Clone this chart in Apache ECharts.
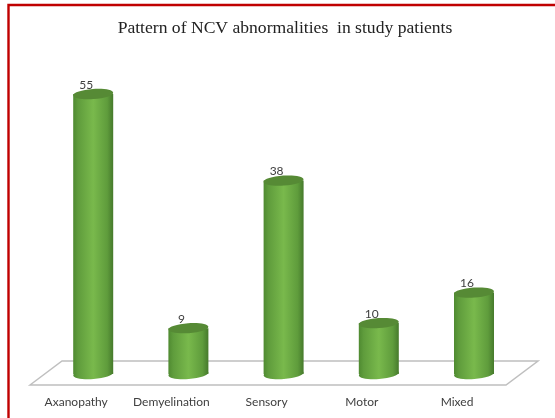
<!DOCTYPE html>
<html>
<head>
<meta charset="utf-8">
<style>
html, body { margin: 0; padding: 0; background: #fff; }
#main { width: 555px; height: 418px; }
</style>
<script src="https://cdn.jsdelivr.net/npm/echarts@6/dist/echarts.min.js"></script>
</head>
<body>
<div id="main"></div>
<script>
var categories = ['Axanopathy', 'Demyelination', 'Sensory', 'Motor', 'Mixed'];
var values = [55, 9, 38, 10, 16];
var chartTitle = 'Pattern of NCV abnormalities  in study patients';

var chart = echarts.init(document.getElementById('main'));

var depthShift = 17;
var tilt = 0.07;

function renderCylinder(params, api) {
	var top = api.coord([api.value(0), api.value(1)]);
	var base = api.coord([api.value(0), 0]);
	var cx = top[0] + depthShift;
	var rx = 20, ry = 5;
	var body = new echarts.graphic.LinearGradient(0, 0, 1, 0, [
		{ offset: 0, color: '#4f8a31' },
		{ offset: 0.12, color: '#5f9c3c' },
		{ offset: 0.5, color: '#79b94c' },
		{ offset: 0.85, color: '#5f9c3c' },
		{ offset: 1, color: '#467a2c' }
	]);
	return {
		type: 'group',
		children: [
			{
				type: 'ellipse',
				x: cx, y: base[1], rotation: tilt, z2: 1,
				shape: { cx: 0, cy: 0, rx: rx, ry: ry },
				style: { fill: body }
			},
			{
				type: 'rect',
				z2: 2,
				shape: { x: cx - rx, y: top[1], width: rx * 2, height: base[1] - top[1] },
				style: { fill: body }
			},
			{
				type: 'ellipse',
				x: cx, y: top[1], rotation: tilt, z2: 3,
				shape: { cx: 0, cy: 0, rx: rx, ry: ry },
				style: { fill: '#568a35' }
			},
			{
				type: 'text',
				x: top[0] + 10, y: top[1] - 9, z2: 4,
				style: {
					text: String(api.value(1)),
					fill: '#404040',
					font: '12px Lato',
					align: 'center',
					verticalAlign: 'middle'
				}
			}
		]
	};
}

var option = {
	animation: false,
	backgroundColor: '#fff',
	title: {
		text: chartTitle,
		left: 280,
		top: 14,
		textAlign: 'center',
		textStyle: {
			fontFamily: 'Liberation Serif',
			fontWeight: 'normal',
			fontSize: 17.6,
			color: '#222'
		}
	},
	grid: { left: 28.6, width: 476, top: 68.6, height: 305.4 },
	xAxis: {
		type: 'category',
		data: categories,
		axisLine: { show: false },
		axisTick: { show: false },
		axisLabel: {
			fontFamily: 'Lato',
			fontSize: 12,
			color: '#404040',
			margin: 22,
			interval: 0
		}
	},
	yAxis: { type: 'value', min: 0, max: 60, show: false },
	graphic: [
		{
			type: 'rect',
			z: -1,
			shape: { x: 8.5, y: 5, width: 560, height: 430 },
			style: { fill: '#fff', stroke: '#c00000', lineWidth: 2.4 }
		},
		{
			type: 'polygon',
			z: 0,
			shape: { points: [[30, 385], [62, 361], [538, 361], [506, 385]] },
			style: { fill: '#fff', stroke: '#bfbfbf', lineWidth: 1.5 }
		}
	],
	series: [{
		type: 'custom',
		z: 5,
		renderItem: renderCylinder,
		encode: { x: 0, y: 1 },
		data: categories.map(function(c, i) { return [i, values[i]]; })
	}]
};
chart.setOption(option);
</script>
</body>
</html>
